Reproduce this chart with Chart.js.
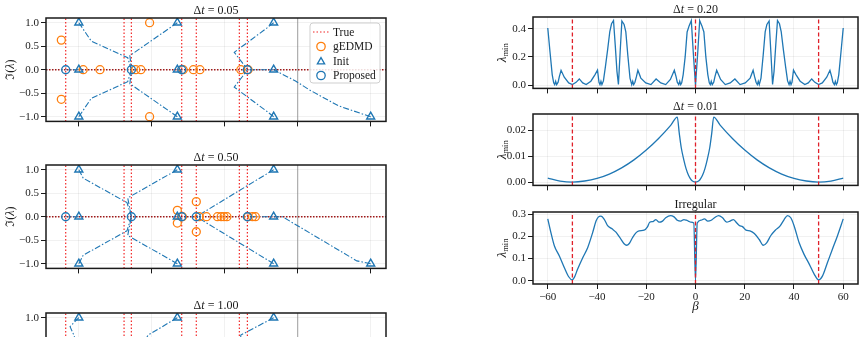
<!DOCTYPE html>
<html>
<head>
<meta charset="utf-8">
<script src="https://cdn.jsdelivr.net/npm/chart.js@4.4.1/dist/chart.umd.min.js"></script>
<style>
  html, body { margin: 0; padding: 0; background: #fff; overflow: hidden; width: 866px; height: 337px; }
  canvas { position: absolute; }
</style>
</head>
<body>
<canvas id="p1"></canvas>
<canvas id="p2"></canvas>
<canvas id="p3"></canvas>
<canvas id="r1"></canvas>
<canvas id="r2"></canvas>
<canvas id="r3"></canvas>
<script>
// ---- left column: eigenvalues in the complex plane ----
const trueRe = [-3.18, -2.38, -2.28, -1.59, -1.39, -0.80, -0.69];
const initRe = [-3, -3, -3, -1.65, -1.65, -1.65, -0.33, -0.33, -0.33, 1.0];
const initIm = [1, 0, -1, 1, 0, -1, 1, 0, -1, -1];

const gedmdRe05 = [-3.24, -3.24, -2.94, -2.71, -2.22, -2.15, -2.03, -2.03, -1.57, -1.43, -1.34, -0.78, -0.68];
const gedmdIm05 = [0.63, -0.63, 0, 0, 0, 0, 1, -1, 0, 0, 0, 0, 0];
const propRe05 = [-3.18, -2.28, -1.59, -0.69];
const propIm05 = [0, 0, 0, 0];
const paths05 = [
  [[-3, 1], [-2.83, 0.61], [-2.33, 0.255], [-2.28, 0]],
  [[-3, -1], [-2.83, -0.61], [-2.33, -0.255], [-2.28, 0]],
  [[-1.65, 1], [-2.30, 0.30], [-2.28, 0]],
  [[-1.65, -1], [-2.30, -0.30], [-2.28, 0]],
  [[-0.33, 1], [-0.42, 0.89], [-0.87, 0.37], [-0.76, 0.15], [-0.69, 0]],
  [[-0.33, -1], [-0.42, -0.89], [-0.87, -0.37], [-0.76, -0.15], [-0.69, 0]],
  [[1.0, -1], [0.56, -0.77], [0.15, -0.42], [-0.03, -0.24], [-0.33, 0], [-0.69, 0]],
  [[-3, 0], [-3.18, 0]],
  [[-1.65, 0], [-1.59, 0]]
];

const gedmdRe50 = [-1.65, -1.65, -1.58, -1.39, -1.39, -1.35, -1.25, -1.10, -1.05, -1.01, -0.97, -0.68, -0.62, -0.58];
const gedmdIm50 = [0.135, -0.135, 0, 0.32, -0.32, 0, 0, 0, 0, 0, 0, 0, 0, 0];
const propRe50 = [-3.18, -2.28, -1.59, -1.39, -0.69];
const propIm50 = [0, 0, 0, 0, 0];
const paths50 = [
  [[-3, 1], [-2.94, 0.82], [-2.34, 0.30], [-2.28, 0]],
  [[-3, -1], [-2.94, -0.82], [-2.34, -0.30], [-2.28, 0]],
  [[-1.65, 1], [-2.33, 0.40], [-2.28, 0]],
  [[-1.65, -1], [-2.33, -0.40], [-2.28, 0]],
  [[-0.33, 1], [-1.39, 0]],
  [[-0.33, -1], [-1.39, 0]],
  [[1.0, -1], [0.81, -0.94], [-0.21, 0], [-0.69, 0]],
  [[-3, 0], [-3.18, 0]]
];

const paths100 = [
  [[-3, 1], [-3.12, 0.81], [-3.06, 0.60], [-3.18, 0]],
  [[-1.65, 1], [-2.05, 0.63], [-2.28, 0]],
  [[-0.33, 1], [-0.78, 0.63], [-0.80, 0]]
];

const reTicks = [-3, -2, -1, 0, 1];
const imTicks = [-1, -0.5, 0, 0.5, 1];

// ---- right column: lambda_min against beta ----
const redBeta = [-50, 0, 50];
const betaTicks = [-60, -40, -20, 0, 20, 40, 60];

const betaR1 = [-60, -59.1, -58.2, -57.6, -57.2, -56.8, -56.4, -55.8, -55.3, -54.6, -53.3, -51.5, -50, -48.5, -47.2, -45.8, -44.4, -42.5, -40.8, -39.8, -39.2, -38.8, -38.4, -38, -37.4, -36.6, -35.7, -34.8, -34.1, -33.3, -32.6, -31.9, -31.3, -30.6, -29.9, -29, -28.3, -27.5, -26.6, -25.9, -25.5, -25.1, -24.6, -24, -23.4, -22.2, -20.2, -18.1, -16, -14.1, -12.1, -10.2, -8.6, -7.9, -7.4, -6.8, -6.4, -6, -5.6, -5, -4.2, -3.4, -2.6, -1.7, -0.9, 0,
  0.9, 1.7, 2.6, 3.4, 4.2, 5, 5.6, 6, 6.4, 6.8, 7.4, 7.9, 8.6, 10.2, 12.1, 14.1, 16, 18.1, 20.2, 22.2, 23.4, 24, 24.6, 25.1, 25.5, 25.9, 26.6, 27.5, 28.3, 29, 29.9, 30.6, 31.3, 31.9, 32.6, 33.3, 34.1, 34.8, 35.7, 36.6, 37.4, 38, 38.4, 38.8, 39.2, 39.8, 40.8, 42.5, 44.4, 45.8, 47.2, 48.5, 50, 51.5, 53.3, 54.6, 55.3, 55.8, 56.4, 56.8, 57.2, 57.6, 58.2, 59.1, 60];
const lamR1 = [0.405, 0.237, 0.075, 0.016, 0.004, 0.028, 0.004, 0.021, 0.06, 0.105, 0.056, 0.016, 0.004, 0.02, 0.044, 0.016, 0.004, 0.028, 0.075, 0.107, 0.02, 0.004, 0.028, 0.004, 0.03, 0.13, 0.25, 0.38, 0.435, 0.458, 0.284, 0.098, 0.005, 0.237, 0.455, 0.43, 0.377, 0.214, 0.05, 0.004, 0.028, 0.004, 0.021, 0.06, 0.105, 0.05, 0.016, 0.004, 0.044, 0.016, 0.004, 0.04, 0.105, 0.06, 0.021, 0.004, 0.028, 0.004, 0.016, 0.075, 0.2, 0.377, 0.42, 0.458, 0.23, 0,
  0.23, 0.458, 0.42, 0.377, 0.2, 0.075, 0.016, 0.004, 0.028, 0.004, 0.021, 0.06, 0.105, 0.04, 0.004, 0.016, 0.044, 0.004, 0.016, 0.05, 0.105, 0.06, 0.021, 0.004, 0.028, 0.004, 0.05, 0.214, 0.377, 0.43, 0.455, 0.237, 0.005, 0.098, 0.284, 0.458, 0.435, 0.38, 0.25, 0.13, 0.03, 0.004, 0.028, 0.004, 0.02, 0.107, 0.075, 0.028, 0.004, 0.016, 0.044, 0.02, 0.004, 0.016, 0.056, 0.105, 0.06, 0.021, 0.004, 0.028, 0.004, 0.016, 0.075, 0.237, 0.405];

const betaR2 = [-60, -55, -50, -45, -40, -35, -30, -25, -20, -15, -10, -7.4, -6.6, -5.8, -4.8, -3.8, -2.8, -1.8, -0.9, 0, 0.9, 1.8, 2.8, 3.8, 4.8, 5.8, 6.6, 7.4, 10, 15, 20, 25, 30, 35, 40, 45, 50, 55, 60];
const lamR2 = [0.0015, 0.0004, 0, 0.0004, 0.0014, 0.0031, 0.0055, 0.0086, 0.0124, 0.0169, 0.0221, 0.0252, 0.019, 0.0134, 0.0088, 0.0051, 0.0025, 0.0009, 0.0002, 0, 0.0002, 0.0009, 0.0025, 0.0051, 0.0088, 0.0134, 0.019, 0.0252, 0.0221, 0.0169, 0.0124, 0.0086, 0.0055, 0.0031, 0.0014, 0.0004, 0, 0.0004, 0.0015];

const betaR3 = [-60, -58.7, -57.3, -55.3, -53.3, -51.5, -50.1, -49.2, -47.9, -45.8, -43.8, -41.8, -40.4, -39.5, -38.4, -37, -35.7, -33.9, -32.3, -30.7, -29, -28, -26.9, -25.6, -24.2, -22.9, -20.9, -19.5, -18.6, -17.2, -16.1, -14.8, -13.4, -12.1, -10.1, -8.7, -7.4, -6, -4.7, -3.7, -2.9, -1.9, -0.7, 0, 0.7, 2.3, 3.6, 5, 6.4, 7.7, 9.4, 11, 12.7, 14, 15.4, 16.5, 17.8, 19.2, 20.5, 22.1, 23.9, 25.9, 27.5, 28.9, 30.6, 32.4, 34.3, 36, 37.4, 38.7, 40.1, 42.1, 44.1, 46.2, 48.2, 50, 51.6, 53.6, 55.6, 57.6, 60];
const lamR3 = [0.279, 0.216, 0.157, 0.112, 0.06, 0.018, 0.004, 0.015, 0.052, 0.104, 0.149, 0.216, 0.269, 0.287, 0.291, 0.276, 0.249, 0.234, 0.219, 0.194, 0.167, 0.16, 0.168, 0.194, 0.216, 0.225, 0.228, 0.243, 0.264, 0.267, 0.276, 0.264, 0.269, 0.284, 0.294, 0.288, 0.273, 0.269, 0.276, 0.273, 0.269, 0.264, 0.26, 0.0, 0.26, 0.273, 0.279, 0.269, 0.273, 0.284, 0.294, 0.284, 0.264, 0.269, 0.276, 0.264, 0.249, 0.243, 0.228, 0.225, 0.213, 0.186, 0.16, 0.171, 0.204, 0.228, 0.246, 0.276, 0.294, 0.284, 0.246, 0.171, 0.119, 0.075, 0.03, 0.004, 0.022, 0.082, 0.142, 0.201, 0.279];

// ---- styling and helpers ----
const FONT = "'Liberation Serif', 'Times New Roman', serif";
const BLUE = '#1f77b4', ORANGE = '#ff7f0e', INK = '#1a1a1a';
const minus = s => s.replace('-', '\u2212');

function rich(ctx, segs, x, y, rot) {
  ctx.save();
  ctx.translate(x, y);
  ctx.rotate(rot || 0);
  ctx.textBaseline = 'middle';
  ctx.textAlign = 'left';
  let w = 0;
  segs.forEach(s => { ctx.font = s[1] + ' ' + FONT; w += ctx.measureText(s[0]).width; });
  let cx = -w / 2;
  segs.forEach(s => {
    ctx.font = s[1] + ' ' + FONT;
    ctx.fillText(s[0], cx, s[2] || 0);
    cx += ctx.measureText(s[0]).width;
  });
  ctx.restore();
}

function marker(ctx, style, x, y, r, color) {
  ctx.save();
  ctx.strokeStyle = color; ctx.lineWidth = 1.3;
  ctx.beginPath();
  if (style === 'triangle') {
    for (let k = 0; k < 3; k++) {
      const a = -Math.PI / 2 + k * 2 * Math.PI / 3;
      const px = x + Math.cos(a) * r, py = y + Math.sin(a) * r + r * 0.2;
      k ? ctx.lineTo(px, py) : ctx.moveTo(px, py);
    }
    ctx.closePath();
  } else {
    ctx.arc(x, y, r, 0, 2 * Math.PI);
  }
  ctx.stroke();
  ctx.restore();
}

function drawLegend(chart, labels) {
  const { ctx, chartArea: a } = chart;
  const w = 70, h = 60, x0 = a.right - 6 - w, y0 = a.top + 5;
  ctx.save();
  ctx.fillStyle = 'rgba(255,255,255,0.85)';
  ctx.strokeStyle = '#cfcfcf'; ctx.lineWidth = 1;
  ctx.beginPath(); ctx.roundRect(x0, y0, w, h, 3); ctx.fill(); ctx.stroke();
  labels.forEach((lab, i) => {
    const ds = chart.data.datasets.find(d => d.label === lab);
    const y = y0 + 9 + i * 14.5;
    if (ds.showLine) {
      ctx.save();
      ctx.strokeStyle = ds.borderColor; ctx.lineWidth = ds.borderWidth; ctx.setLineDash(ds.borderDash || []);
      ctx.beginPath(); ctx.moveTo(x0 + 3, y); ctx.lineTo(x0 + 20, y); ctx.stroke();
      ctx.restore();
    } else {
      marker(ctx, ds.pointStyle, x0 + 11, y, 4.2, ds.pointBorderColor);
    }
    ctx.fillStyle = INK;
    ctx.font = '11.5px ' + FONT; ctx.textBaseline = 'middle'; ctx.textAlign = 'left';
    ctx.fillText(lab, x0 + 23, y + 0.5);
  });
  ctx.restore();
}

const framePlugin = {
  id: 'frame',
  afterDraw(chart, args, o) {
    const { ctx, chartArea: a } = chart;
    ctx.save();
    ctx.lineWidth = 1.5; ctx.strokeStyle = INK;
    ctx.strokeRect(a.left, a.top, a.right - a.left, a.bottom - a.top);
    ctx.fillStyle = INK;
    if (o.title) rich(ctx, o.title, (a.left + a.right) / 2, a.top - 7, 0);
    if (o.ylabel) rich(ctx, o.ylabel, o.ylabelX, (a.top + a.bottom) / 2, -Math.PI / 2);
    if (o.xlabel) rich(ctx, o.xlabel, (a.left + a.right) / 2, o.xlabelY, 0);
    if (o.legend) drawLegend(chart, o.legend);
    ctx.restore();
  }
};

function scale(min, max, ticks, fmt, size, axis) {
  return {
    type: 'linear', min, max,
    afterBuildTicks: s => { s.ticks = ticks.map(v => ({ value: v })); },
    afterFit: s => { if (axis === 'x') s.height = size; else s.width = size; },
    grid: { color: 'rgba(0,0,0,0.07)', lineWidth: 0.8, tickColor: INK, tickLength: 5, tickWidth: 1 },
    border: { display: false },
    ticks: {
      autoSkip: false, maxRotation: 0, padding: 2, color: INK,
      font: { family: FONT, size: 11 },
      callback: v => fmt ? fmt(v) : ''
    }
  };
}

function vline(x, y0, y1, style) {
  return Object.assign({ data: [{ x, y: y0 }, { x, y: y1 }], showLine: true, pointRadius: 0, fill: false }, style);
}

function pts(xs, ys) { return xs.map((x, i) => ({ x, y: ys[i] })); }

const XL = [-3.45, 1.21], YL = [-1.1, 1.1];

function leftSets(gRe, gIm, pRe, pIm, paths) {
  const ds = [];
  trueRe.forEach((x, i) => ds.push(vline(x, YL[0], YL[1], {
    label: i === 0 ? 'True' : undefined,
    borderColor: 'rgba(240,0,0,0.85)', borderDash: [1.5, 2], borderWidth: 1.2, order: 5
  })));
  ds.push(vline(0, YL[0], YL[1], { borderColor: '#8a8a8a', borderWidth: 0.8, order: 7 }));
  ds.push({ data: [{ x: XL[0], y: 0 }, { x: XL[1], y: 0 }], showLine: true, pointRadius: 0,
    borderColor: 'rgba(150,0,0,0.9)', borderDash: [1.5, 1.5], borderWidth: 1.4, order: 6 });
  paths.forEach(p => ds.push({
    data: p.map(q => ({ x: q[0], y: q[1] })), showLine: true, pointRadius: 0,
    borderColor: BLUE, borderDash: [6, 2, 1.5, 2], borderWidth: 1.1, order: 4
  }));
  if (gRe) ds.push({ label: 'gEDMD', data: pts(gRe, gIm), pointStyle: 'circle', pointRadius: 4,
    pointBorderColor: ORANGE, pointBackgroundColor: 'rgba(0,0,0,0)', pointBorderWidth: 1.3, order: 3 });
  ds.push({ label: 'Init', data: pts(initRe, initIm), pointStyle: 'triangle', pointRadius: 4.6,
    pointBorderColor: BLUE, pointBackgroundColor: 'rgba(0,0,0,0)', pointBorderWidth: 1.4, order: 2 });
  if (pRe) ds.push({ label: 'Proposed', data: pts(pRe, pIm), pointStyle: 'circle', pointRadius: 4,
    pointBorderColor: BLUE, pointBackgroundColor: 'rgba(0,0,0,0)', pointBorderWidth: 1.4, order: 1 });
  return ds;
}

function rightSets(xs, ys, ymin, ymax, smooth) {
  const ds = [{ data: pts(xs, ys), showLine: true, pointRadius: 0, borderColor: BLUE, borderWidth: 1.3,
    cubicInterpolationMode: smooth ? 'monotone' : 'default', tension: 0, order: 2 }];
  redBeta.forEach(b => ds.push(vline(b, ymin, ymax, { borderColor: '#e0202a', borderDash: [4, 2.5], borderWidth: 1.3, order: 1 })));
  return ds;
}

function make(id, box, datasets, scales, frame) {
  const c = document.getElementById(id);
  c.width = box.w; c.height = box.h;
  c.style.left = box.x + 'px'; c.style.top = box.y + 'px';
  return new Chart(c, {
    type: 'scatter',
    data: { datasets },
    options: {
      responsive: false, animation: false, events: [],
      layout: { padding: { top: box.pt, right: box.pr, left: 0, bottom: 0 } },
      scales,
      plugins: { legend: { display: false }, tooltip: { enabled: false }, frame }
    },
    plugins: [framePlugin]
  });
}

const fmt1 = v => minus(v.toFixed(1));
const fmt2 = v => v.toFixed(2);
const ylabL = [['\u2111(', '12px'], ['\u03bb', 'italic 12px'], [')', '12px']];
const ylabR = [['\u03bb', 'italic 13px'], ['min', '8.5px', 3]];
const dt = s => [['\u0394', '12px'], ['t', 'italic 12px'], [' = ' + s, '12px']];

function leftScales() {
  return { x: scale(XL[0], XL[1], reTicks, null, 8, 'x'), y: scale(YL[0], YL[1], imTicks, fmt1, 46, 'y') };
}

make('p1', { x: 0, y: 0, w: 392, h: 130, pt: 18, pr: 4 },
  leftSets(gedmdRe05, gedmdIm05, propRe05, propIm05, paths05), leftScales(),
  { title: dt('0.05'), ylabel: ylabL, ylabelX: 11, legend: ['True', 'gEDMD', 'Init', 'Proposed'] });
make('p2', { x: 0, y: 147, w: 392, h: 130, pt: 18, pr: 4 },
  leftSets(gedmdRe50, gedmdIm50, propRe50, propIm50, paths50), leftScales(),
  { title: dt('0.50'), ylabel: ylabL, ylabelX: 11 });
make('p3', { x: 0, y: 295, w: 392, h: 130, pt: 18, pr: 4 },
  leftSets(null, null, null, null, paths100), leftScales(),
  { title: dt('1.00'), ylabel: ylabL, ylabelX: 11 });

const Y1 = [-0.023, 0.483], Y2 = [-0.0013, 0.0264], Y3 = [-0.0147, 0.31];
make('r1', { x: 470, y: 0, w: 393, h: 97, pt: 17, pr: 5 },
  rightSets(betaR1, lamR1, Y1[0], Y1[1], false),
  { x: scale(-66, 66, betaTicks, null, 8, 'x'), y: scale(Y1[0], Y1[1], [0, 0.2, 0.4], fmt1, 63, 'y') },
  { title: dt('0.20'), ylabel: ylabR, ylabelX: 33 });
make('r2', { x: 470, y: 97, w: 393, h: 97, pt: 17, pr: 5 },
  rightSets(betaR2, lamR2, Y2[0], Y2[1], true),
  { x: scale(-66, 66, betaTicks, null, 8, 'x'), y: scale(Y2[0], Y2[1], [0, 0.01, 0.02], fmt2, 63, 'y') },
  { title: dt('0.01'), ylabel: ylabR, ylabelX: 33 });
make('r3', { x: 470, y: 194, w: 393, h: 130, pt: 18, pr: 5 },
  rightSets(betaR3, lamR3, Y3[0], Y3[1], true),
  { x: scale(-66, 66, betaTicks, v => minus(String(v)), 40, 'x'), y: scale(Y3[0], Y3[1], [0, 0.1, 0.2, 0.3], fmt1, 63, 'y') },
  { title: [['Irregular', '12px']], ylabel: ylabR, ylabelX: 33, xlabel: [['\u03b2', 'italic 13px']], xlabelY: 113 });
</script>
</body>
</html>
